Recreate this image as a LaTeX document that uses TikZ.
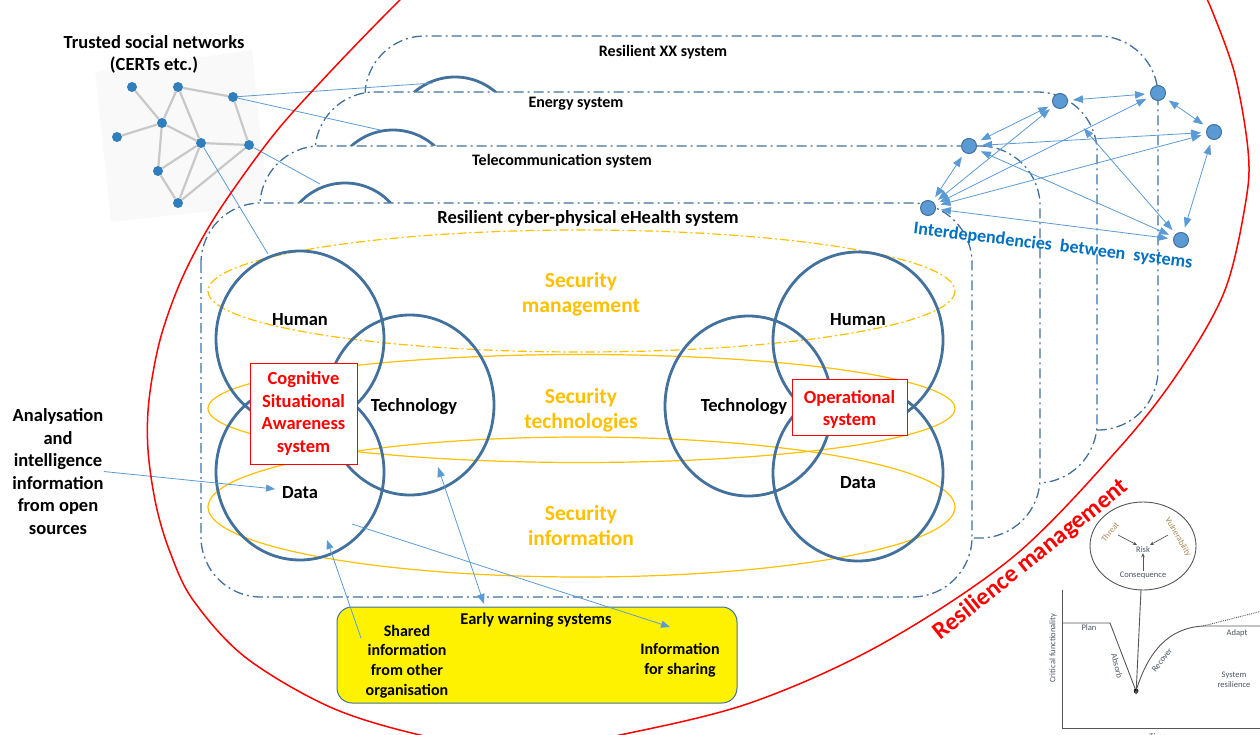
\documentclass[tikz,border=0pt]{standalone}
\usepackage{fontspec}
\setmainfont{Carlito}
\usetikzlibrary{arrows.meta}
\definecolor{sysblue}{RGB}{65,113,156}
\definecolor{linkblue}{RGB}{91,155,213}
\definecolor{secgold}{RGB}{255,192,0}
\definecolor{interblue}{RGB}{0,112,192}
\definecolor{netdotblue}{RGB}{48,126,188}
\definecolor{netedgegray}{RGB}{200,200,200}
\definecolor{chartline}{RGB}{85,85,85}
\definecolor{charttext}{RGB}{75,85,100}
\definecolor{charttan}{RGB}{170,135,85}

\tikzset{
  sysbox/.style={draw=sysblue, line width=1.3pt, fill=white, rounded corners=60pt,
    dash pattern=on 10pt off 4pt on 2pt off 4pt},
  triad/.style={draw=sysblue, line width=2.8pt},
  secring/.style={draw=secgold, line width=1.2pt},
  seclabel/.style={text=secgold, font=\fontsize{21.5}{25}\selectfont\bfseries, align=center, inner sep=0pt},
  boxlabel/.style={font=\fontsize{16}{19}\selectfont\bfseries, inner sep=0pt},
  partlabel/.style={font=\fontsize{18.5}{22}\selectfont\bfseries, inner sep=0pt},
  redbox/.style={draw=red, line width=1pt, fill=white, inner sep=0pt, align=center, text=red,
    font=\fontsize{18.5}{22.5}\selectfont\bfseries},
  redtext/.style={inner sep=0pt, align=center, text=red, font=\fontsize{18.5}{22.5}\selectfont\bfseries},
  sidetext/.style={font=\fontsize{18.5}{22.6}\selectfont\bfseries, align=center, inner sep=0pt},
  ewstext/.style={font=\fontsize{16}{19.6}\selectfont\bfseries, align=center, inner sep=0pt},
  feed/.style={draw=linkblue, line width=0.8pt},
  feedarrow/.style={feed, -{Triangle[length=9pt,width=7pt]}},
  bifeed/.style={feed, {Triangle[length=10pt,width=7.5pt]}-{Triangle[length=10pt,width=7.5pt]}},
  netdot/.style={circle, fill=netdotblue, inner sep=0pt, minimum size=10pt},
  netedge/.style={draw=netedgegray, line width=2.2pt},
  sysdot/.style={circle, fill=linkblue, draw=sysblue, line width=1pt, inner sep=0pt, minimum size=15pt},
  chartstroke/.style={draw=chartline, line width=0.9pt},
  charttxt/.style={text=charttext, font=\fontsize{8.5}{9.5}\selectfont, inner sep=0pt, align=center},
}

\begin{document}
\begin{tikzpicture}[x=1pt,y=-1pt]
\useasboundingbox (0,0) rectangle (1260,735);
\clip (0,0) rectangle (1260,735);

% ---------- trusted social network picture ----------
\fill[black!2.5] (95,72) -- (252,50) -- (268,205) -- (111,222) -- cycle;
\node[netdot] (na) at (132,87) {};
\node[netdot] (nb) at (178,87) {};
\node[netdot] (nc) at (233,97) {};
\node[netdot] (nd) at (162,123) {};
\node[netdot] (ne) at (117,137) {};
\node[netdot] (nf) at (201,143) {};
\node[netdot] (ng) at (249,145) {};
\node[netdot] (nh) at (158,171) {};
\node[netdot] (ni) at (178,203) {};
\draw[netedge] (na) -- (nd);
\draw[netedge] (nb) -- (nd);
\draw[netedge] (nb) -- (nc);
\draw[netedge] (nb) -- (nf);
\draw[netedge] (nd) -- (ne);
\draw[netedge] (nd) -- (nf);
\draw[netedge] (nd) -- (nh);
\draw[netedge] (nc) -- (ng);
\draw[netedge] (nf) -- (ng);
\draw[netedge] (nf) -- (nh);
\draw[netedge] (nf) -- (ni);
\draw[netedge] (ng) -- (ni);
\draw[netedge] (nh) -- (ni);
\node[font=\fontsize{18.5}{22}\selectfont\bfseries, align=center, inner sep=0pt] (trusted) at (154,54)
  {Trusted social networks\\(CERTs etc.)};

% ---------- stacked system layers, back to front ----------
\draw[sysbox] (365,36) rectangle (1158,430);
\draw[triad] (455,139) circle (62);
\node[boxlabel] (lxx) at (663,52) {Resilient XX system};

\draw[sysbox] (315,92) rectangle (1097,483);
\draw[triad] (393,192) circle (62);
\node[boxlabel] (len) at (576,104) {Energy system};

\draw[sysbox] (260,146) rectangle (1040,538);
\draw[triad] (345,245) circle (62);
\node[boxlabel] (ltel) at (562,161) {Telecommunication system};

\draw[sysbox] (201,203) rectangle (972,597);
\node[boxlabel, font=\fontsize{18.5}{22}\selectfont\bfseries] (lhe) at (588,218)
  {Resilient cyber-physical eHealth system};

% ---------- security bands ----------
\draw[secring, dash pattern=on 9pt off 3pt on 2pt off 3pt] (581.5,291) ellipse (373.5 and 61);
\draw[secring] (581.5,408.5) ellipse (373.5 and 54);
\draw[secring] (581.5,507) ellipse (373.5 and 70);
\node[seclabel] (smgmt) at (581,294.5) {Security\\management};
\node[seclabel] (stech) at (581,410.5) {Security\\technologies};
\node[seclabel] (sinfo) at (581,525.5) {Security\\information};

% ---------- human / technology / data triads ----------
\draw[triad] (300,339) ellipse (84 and 88);
\draw[triad] (410,405) ellipse (84 and 90);
\draw[triad] (300,472) ellipse (84 and 88);
\draw[triad] (858,340) ellipse (85 and 88);
\draw[triad] (748.5,406) ellipse (83.5 and 90);
\draw[triad] (858,473) ellipse (85 and 88);

\node[partlabel] (hl) at (300,320) {Human};
\node[partlabel] (tl) at (414,407) {Technology};
\node[partlabel] (dl) at (300,493) {Data};
\node[partlabel] (hr) at (858,320) {Human};
\node[partlabel] (tr) at (744,407) {Technology};
\node[partlabel] (dr) at (858,483) {Data};

\node[redbox, minimum width=107pt, minimum height=101pt] (csa) at (303.5,413.5)
  {Cognitive\\Situational\\Awareness\\system};
\node[redbox, minimum width=115pt, minimum height=56pt] (ops) at (849.5,407) {};
\node[redtext] (opslbl) at (849.5,409.5) {Operational\\system};

% ---------- open sources ----------
\node[sidetext] (osint) at (58,471.5)
  {Analysation\\and\\intelligence\\information\\from open\\sources};
\coordinate (osintin) at (275,489);
\draw[feedarrow] (osint.east) -- (osintin);

% ---------- early warning systems ----------
\node[draw=sysblue, line width=1pt, fill=yellow, rounded corners=15pt, minimum width=400pt,
  minimum height=96pt, inner sep=0pt] (ews) at (537,655) {};
\node[ewstext, font=\fontsize{16.5}{19}\selectfont\bfseries] (ewslbl) at (536,620) {Early warning systems};
\node[ewstext] (shared) at (407,661.5) {Shared\\information\\from other\\organisation};
\node[ewstext] (forshare) at (680,660) {Information\\for sharing};

\coordinate (sharedtail) at (361,638);
\coordinate (datain) at (327,540);
\draw[feedarrow] (sharedtail) -- (datain);
\coordinate (techport) at (438,467);
\coordinate (ewsport) at (484,604);
\draw[bifeed] (techport) -- (ewsport);
\coordinate (dataout) at (352,524);
\coordinate (shareport) at (670,627);
\draw[feedarrow] (dataout) -- (shareport);

% ---------- links from trusted network into each layer ----------
\coordinate (xxhook) at (433,83);
\coordinate (enhook) at (380,130);
\coordinate (telhook) at (320,184);
\coordinate (ehhook) at (268,254);
\draw[feed] (nc) -- (xxhook);
\draw[feed] (nc) -- (enhook);
\draw[feed] (ng) -- (telhook);
\draw[feed] (nf) -- (ehhook);

% ---------- interdependencies between systems ----------
\node[sysdot] (s1) at (928,208) {};
\node[sysdot] (s2) at (969,146) {};
\node[sysdot] (s3) at (1060,101) {};
\node[sysdot] (s4) at (1158,93) {};
\node[sysdot] (s5) at (1214,132) {};
\node[sysdot] (s6) at (1181,240) {};
\begin{scope}[shorten <=5pt, shorten >=5pt]
\draw[bifeed] (s1) -- (s2);
\draw[bifeed] (s1) -- (s3);
\draw[bifeed] (s1) -- (s4);
\draw[bifeed] (s1) -- (s5);
\draw[bifeed] (s1) -- (s6);
\draw[bifeed] (s2) -- (s3);
\draw[bifeed] (s2) -- (s5);
\draw[bifeed] (s2) -- (s6);
\draw[bifeed] (s3) -- (s4);
\draw[bifeed] (s4) -- (s5);
\draw[bifeed] (s5) -- (s6);
\draw[bifeed, shorten >=28pt] (s6) -- (s3);
\end{scope}
\node[text=interblue, font=\fontsize{18}{22}\selectfont\bfseries, rotate=-7, inner sep=0pt] (interlbl)
  at (1053,246) {Interdependencies\ \ between\ \ systems};

% ---------- resilience management boundary ----------
\draw[red, line width=1.5pt] plot[smooth, tension=0.55] coordinates {
  (425,-25) (380,20) (330,72) (280,127) (240,180) (207,230) (180,283) (160,340)
  (149,400) (148,450) (156,505) (170,552) (193,600) (245,657) (330,707) (420,735)
  (520,752) (620,735) (750,703) (880,645) (1013,557) (1120,447) (1180,370)
  (1225,290) (1246,200) (1248,150) (1235,75) (1213,13) (1200,-15)};
\node[text=red, font=\fontsize{24.5}{28}\selectfont\bfseries, rotate=38.7, inner sep=0pt] (reslbl)
  at (1031,560) {Resilience management};

% ---------- risk and resilience curve ----------
\draw[chartstroke] (1143,546) ellipse (53 and 44);
\node[charttxt, text=charttan, rotate=50] (threat) at (1110,532) {Threat};
\node[charttxt, text=charttan, rotate=-60] (vuln) at (1178,537) {Vulnerability};
\node[charttxt] (risk) at (1143,550) {Risk};
\node[charttxt] (conseq) at (1143,575) {Consequence};
\coordinate (threatout) at (1118,535);
\coordinate (riskw) at (1137,545);
\coordinate (vulnout) at (1168,535);
\coordinate (riske) at (1150,545);
\draw[chartstroke, line width=0.7pt, -{Stealth[length=4pt,width=3.5pt]}] (threatout) -- (riskw);
\draw[chartstroke, line width=0.7pt, -{Stealth[length=4pt,width=3.5pt]}] (vulnout) -- (riske);
\draw[chartstroke, line width=0.7pt, -{Stealth[length=4pt,width=3.5pt]}] (conseq.north) -- (risk.south);

\coordinate (origin) at (1062,728);
\draw[chartstroke] (1062,590) -- (origin) -- (1262,728);
\coordinate (dip) at (1136,691);
\draw[chartstroke] (1062,623) -- (1110,623) -- (dip)
  .. controls (1148,652) and (1168,628) .. (1203,626) -- (1262,626);
\draw[chartstroke, densely dotted] (1203,626) -- (1262,611);
\fill[black] (dip) circle (2.3);
\coordinate (ringbottom) at (1141,590);
\draw[chartstroke, -{Stealth[length=5pt,width=4pt]}] (ringbottom) -- ([yshift=-4pt]dip);

\node[charttxt] (plan) at (1089,628) {Plan};
\node[charttxt, rotate=-75] (absorb) at (1117,666) {Absorb};
\node[charttxt, rotate=52] (recover) at (1162,660) {Recover};
\node[charttxt] (adapt) at (1237,633) {Adapt};
\node[charttxt] (sysres) at (1234,680) {System\\resilience};
\node[charttxt, rotate=90] (critf) at (1053,648) {Critical functionality};
\node[charttxt] (timelbl) at (1158,737) {Time};
\end{tikzpicture}
\end{document}
